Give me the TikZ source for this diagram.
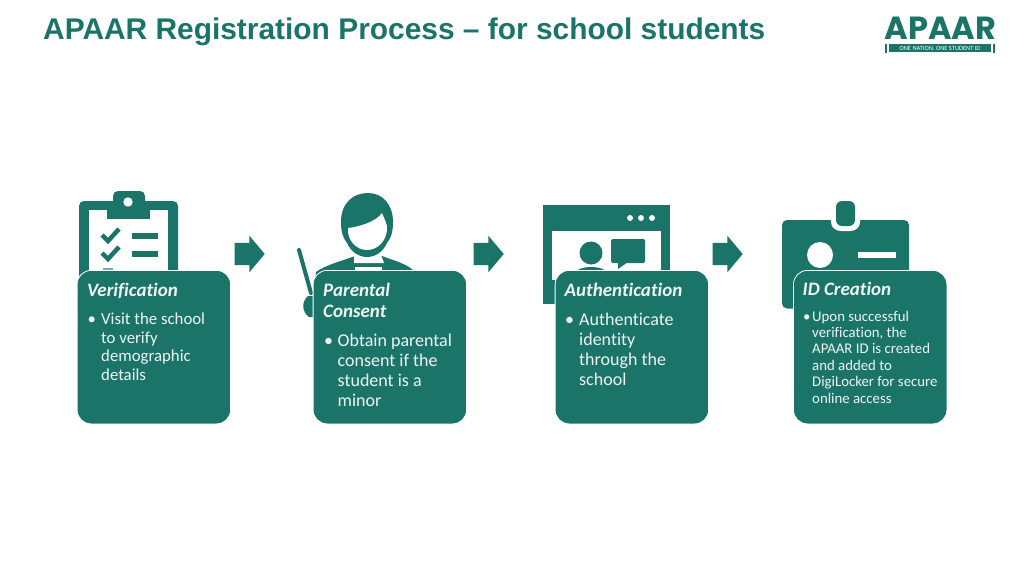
\documentclass[tikz,border=0pt]{standalone}
\usepackage{fontspec}
\setmainfont[Ligatures=NoCommon]{Carlito}
\newfontfamily\titlefont{Liberation Sans}
\newfontfamily\logofont{Poppins}
\usetikzlibrary{shapes.arrows}
\definecolor{apaargreen}{HTML}{1B7468}
\definecolor{cardtext}{HTML}{EEF5F3}
\begin{document}
\begin{tikzpicture}[
    x=1pt, y=-1pt,
    card/.style={fill=apaargreen, draw=white, line width=0.8pt, rounded corners=14pt, minimum width=153.5pt, minimum height=153.5pt, inner sep=0pt},
    cardtitle/.style={anchor=base west, inner sep=0pt, align=left, text=cardtext, font=\fontsize{19}{21}\selectfont\bfseries\itshape},
    cardbody/.style 2 args={anchor=base west, inner sep=0pt, align=left, text=cardtext, font=\fontsize{#1}{#2}\selectfont},
    nextarrow/.style={single arrow, fill=apaargreen, inner sep=0pt, minimum height=30pt, single arrow head extend=7pt, single arrow head indent=0pt, single arrow tip angle=100},
    icon/.style={fill=apaargreen, draw=none},
    iconhole/.style={fill=white, draw=none}
]
    \useasboundingbox (0,0) rectangle (1024,576);

    % Title and logo
    \node[anchor=base west, inner sep=0pt, text=apaargreen, font=\fontsize{29.9}{32}\selectfont\titlefont\bfseries] (title) at (43,39) {APAAR Registration Process – for school students};
    \node[anchor=base, inner sep=0pt, text=apaargreen, font=\fontsize{32}{32}\selectfont\logofont\bfseries] (logo) at (940.5,39.5) {APAAR};
    \node[fill=apaargreen, minimum width=102pt, minimum height=8pt, inner sep=0pt, text=white, font=\fontsize{6.4}{6.4}\selectfont] (tagline) at (940,48) {ONE NATION. ONE STUDENT ID};
    \node[fill=apaargreen, minimum width=1.5pt, minimum height=9pt, inner sep=0pt] (tagleft) at (886,48) {};
    \node[fill=apaargreen, minimum width=1.5pt, minimum height=9pt, inner sep=0pt] (tagright) at (994,48) {};

    % Clipboard
    \fill[icon, rounded corners=5pt] (79,201) rectangle (178,280);
    \fill[iconhole] (89,210) rectangle (168,280);
    \fill[icon, rounded corners=5pt] (113,191) rectangle (145,212);
    \fill[icon] (107,205) rectangle (150,219);
    \fill[iconhole] (128,202) circle (4.7);
    \draw[apaargreen, line width=4.5pt] (102,235) -- (108,241) -- (119,229);
    \draw[apaargreen, line width=4.5pt] (102,253) -- (108,259) -- (119,247);
    \fill[icon] (132,233) rectangle (158,239);
    \fill[icon] (132,251) rectangle (158,257);
    \fill[apaargreen!60] (103,268) rectangle (113,271);

    % Person with pointer
    \fill[icon] (315,280) -- (316,272) .. controls (325,265) and (345,260) .. (355,256) -- (382,256) .. controls (392,260) and (405,263) .. (413,270) -- (413,280) -- cycle;
    \fill[iconhole] (354,255) -- (381,255) -- (384,263) -- (354,263) -- cycle;
    \fill[iconhole] (355,267) rectangle (382,272);
    \fill[icon] (341,222) .. controls (341,203) and (353,193) .. (368,193) .. controls (383,193) and (393,205) .. (393,222) .. controls (393,232) and (391,238) .. (387,243) .. controls (383,252) and (375,257) .. (367,257) .. controls (359,257) and (351,252) .. (347,243) .. controls (343,238) and (341,232) .. (341,222) -- cycle;
    \fill[iconhole] (348,228) .. controls (358,227) and (376,222) .. (382,213) .. controls (384,218) and (386,222) .. (387,226) .. controls (388,240) and (378,250) .. (367,250) .. controls (356,250) and (347,240) .. (348,228) -- cycle;
    \draw[apaargreen, line width=4pt, line cap=round] (299,250) -- (311,293);
    \fill[icon] (308,296) .. controls (301,302) and (302,312) .. (309,317) -- (320,317) -- (320,296) -- cycle;

    % Browser window
    \fill[icon] (543,205) rectangle (670,304);
    \fill[iconhole] (552,231) rectangle (661,280);
    \foreach \dotx in {630,641,652} {
        \fill[iconhole] (\dotx,218) circle (3);
    }
    \fill[icon] (591,253) circle (11.5);
    \fill[icon] (570,280) .. controls (572,270) and (582,267) .. (591,267) .. controls (600,267) and (610,270) .. (612,280) -- cycle;
    \fill[icon, rounded corners=1.5pt] (611,239) rectangle (645,263);
    \fill[icon] (618,260) -- (618,269) -- (628,262) -- cycle;

    % Badge
    \fill[icon, rounded corners=5pt] (782,220) rectangle (909,308.5);
    \fill[iconhole] (831,218) -- (860,218) -- (860,222) .. controls (860,228) and (855,231) .. (850,231) -- (841,231) .. controls (836,231) and (831,228) .. (831,222) -- cycle;
    \fill[icon, rounded corners=6pt] (836,201) rectangle (855,226);
    \fill[iconhole] (820,255) circle (13);
    \fill[iconhole] (858,252) rectangle (896,258);

    % Cards
    \node[card, anchor=north west] (verification) at (76.7,270) {};
    \node[card, anchor=north west] (consent) at (312.7,270) {};
    \node[card, anchor=north west] (authentication) at (554.7,270) {};
    \node[card, anchor=north west] (idcreation) at (793,270) {};

    % Arrows
    \node[nextarrow] (arrowa) at (245,254) {\rule{0pt}{22pt}};
    \node[nextarrow] (arrowb) at (484,254) {\rule{0pt}{22pt}};
    \node[nextarrow] (arrowc) at (723,254) {\rule{0pt}{22pt}};

    % Verification text
    \node[cardtitle] (verificationtitle) at (87,296.5) {Verification};
    \node[cardbody={16.8}{18.7}] (verificationdot) at (87.5,324.5) {\textbullet};
    \node[cardbody={16.8}{18.7}] (verificationbody) at (101,380.5) {Visit the school\\to verify\\demographic\\details};

    % Consent text
    \node[cardtitle] (consenttitle) at (323,317) {Parental\\Consent};
    \node[cardbody={18}{20}] (consentdot) at (324,346) {\textbullet};
    \node[cardbody={18}{20}] (consentbody) at (337.5,406) {Obtain parental\\consent if the\\student is a\\minor};

    % Authentication text
    \node[cardtitle] (authenticationtitle) at (564.5,296.5) {Authentication};
    \node[cardbody={18}{20}] (authenticationdot) at (565,325) {\textbullet};
    \node[cardbody={18}{20}] (authenticationbody) at (579,385) {Authenticate\\identity\\through the\\school};

    % ID creation text
    \node[cardtitle] (idcreationtitle) at (802.5,295) {ID Creation};
    \node[cardbody={14.8}{16.4}] (idcreationdot) at (803,321) {\textbullet};
    \node[cardbody={14.8}{16.4}] (idcreationbody) at (812,403) {Upon successful\\verification, the\\APAAR ID is created\\and added to\\DigiLocker for secure\\online access};
\end{tikzpicture}
\end{document}
